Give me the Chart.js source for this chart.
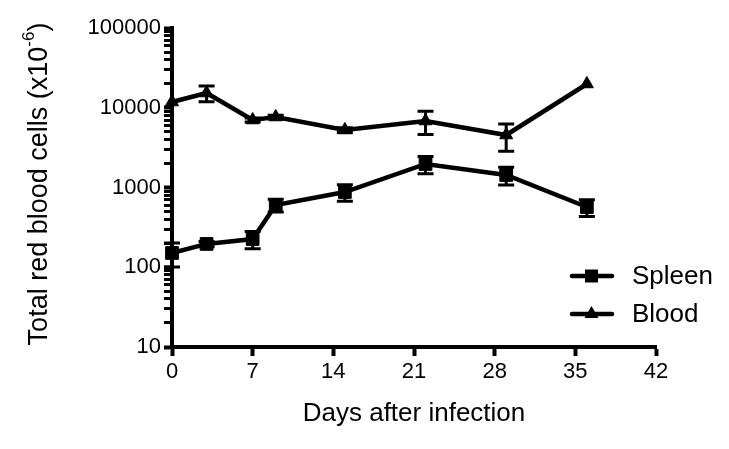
<!DOCTYPE html>
<html>
<head>
<meta charset="utf-8">
<script src="https://cdn.jsdelivr.net/npm/chart.js@4"></script>
<style>
  html, body { margin: 0; padding: 0; background: #fff; }
  canvas { display: block; }
</style>
</head>
<body>
<canvas id="chart" width="729" height="449"></canvas>
<script>
// days after infection
var days = [0, 3, 7, 9, 15, 22, 29, 36]
// spleen means and SEM
var spleen = [151, 196, 226, 604, 878, 1972, 1435, 569]
var spleenErr = [50, 15, 55, 110, 205, 480, 360, 135]
// blood means and SEM
var blood = [11800, 15300, 7020, 7650, 5260, 6820, 4550, 19860]
var bloodErr = [0, 3400, 400, 400, 350, 2200, 1700, 0]
// axis ticks
var xTicks = [0, 7, 14, 21, 28, 35, 42]
var yMajor = [10, 100, 1000, 10000, 100000]

var FONT = '"Liberation Sans", Arial, Helvetica, sans-serif'

var toPoints = (vals) => days.map((d, i) => ({ x: d, y: vals[i] }))

// all log ticks 1..9 x decade, labels only on decades
var yTicks = []
yMajor.forEach((m, i) => {
  if (i === yMajor.length - 1) { yTicks.push(m); return }
  for (var k = 1; k < 10; k++) yTicks.push(m * k)
})

var errorBars = {
  id: 'errorBars',
  beforeDatasetsDraw (chart) {
    var ctx = chart.ctx
    var xs = chart.scales.x
    var ys = chart.scales.y
    var errs = [spleenErr, bloodErr]
    var means = [spleen, blood]
    ctx.save()
    ctx.strokeStyle = '#000'
    ctx.lineWidth = 3
    errs.forEach((err, s) => {
      days.forEach((d, i) => {
        if (!err[i]) return
        var px = xs.getPixelForValue(d)
        var top = ys.getPixelForValue(means[s][i] + err[i])
        var bot = ys.getPixelForValue(means[s][i] - err[i])
        ctx.beginPath()
        ctx.moveTo(px, top); ctx.lineTo(px, bot)
        ctx.moveTo(px - 8, top); ctx.lineTo(px + 8, top)
        ctx.moveTo(px - 8, bot); ctx.lineTo(px + 8, bot)
        ctx.stroke()
      })
    })
    ctx.restore()
  }
}

var extras = {
  id: 'extras',
  afterDraw (chart) {
    var ctx = chart.ctx
    var area = chart.chartArea
    ctx.save()
    ctx.fillStyle = '#000'
    ctx.strokeStyle = '#000'

    // x title
    ctx.font = '26px ' + FONT
    ctx.textAlign = 'center'
    ctx.textBaseline = 'middle'
    ctx.fillText('Days after infection', (area.left + area.right) / 2, 414)

    // y title with superscript
    ctx.save()
    ctx.translate(40, 184)
    ctx.rotate(-Math.PI / 2)
    ctx.textAlign = 'left'
    ctx.textBaseline = 'middle'
    var main = 'Total red blood cells (x10'
    ctx.font = '27px ' + FONT
    var w1 = ctx.measureText(main).width
    var w3 = ctx.measureText(')').width
    ctx.font = '17px ' + FONT
    var w2 = ctx.measureText('-6').width
    var x0 = -(w1 + w2 + w3) / 2
    ctx.font = '27px ' + FONT
    ctx.fillText(main, x0, 0)
    ctx.font = '17px ' + FONT
    ctx.fillText('-6', x0 + w1, -11)
    ctx.font = '27px ' + FONT
    ctx.fillText(')', x0 + w1 + w2, 0)
    ctx.restore()

    // legend
    var items = [['Spleen', 'rect', 276], ['Blood', 'triangle', 314]]
    items.forEach((it) => {
      var y = it[2]
      ctx.lineWidth = 4.5
      ctx.lineCap = 'round'
      ctx.beginPath()
      ctx.moveTo(572, y); ctx.lineTo(612, y)
      ctx.stroke()
      ctx.beginPath()
      if (it[1] === 'rect') {
        ctx.rect(585, y - 6.5, 13, 13)
      } else {
        ctx.moveTo(591.5, y - 8); ctx.lineTo(598.5, y + 4); ctx.lineTo(584.5, y + 4); ctx.closePath()
      }
      ctx.fill()
      ctx.font = '26px ' + FONT
      ctx.textAlign = 'left'
      ctx.textBaseline = 'middle'
      ctx.fillText(it[0], 632, y + 1)
    })
    ctx.restore()
  }
}

var ds = (label, vals, style, radius) => ({
  label: label,
  data: toPoints(vals),
  borderColor: '#000',
  backgroundColor: '#000',
  borderWidth: 4.5,
  pointStyle: style,
  pointRadius: radius,
  pointBorderWidth: 1,
  pointBackgroundColor: '#000',
  pointBorderColor: '#000',
  tension: 0,
  clip: false
})

new Chart(document.getElementById('chart'), {
  type: 'line',
  data: {
    datasets: [
      ds('Spleen', spleen, 'rect', 9),
      ds('Blood', blood, 'triangle', 7.5)
    ]
  },
  options: {
    responsive: false,
    animation: false,
    devicePixelRatio: 1,
    layout: { padding: { top: 28, right: 73, left: 0, bottom: 0 } },
    plugins: { legend: { display: false }, tooltip: { enabled: false } },
    scales: {
      x: {
        type: 'linear',
        min: 0,
        max: 42,
        afterBuildTicks: (scale) => { scale.ticks = xTicks.map((v) => ({ value: v })) },
        afterFit: (scale) => { scale.height = 102 },
        ticks: { color: '#000', font: { size: 22, family: FONT }, padding: 3, autoSkip: false, maxRotation: 0 },
        grid: { drawOnChartArea: false, tickLength: 9, tickWidth: 4, tickColor: '#000' },
        border: { display: true, width: 4, color: '#000' }
      },
      y: {
        type: 'logarithmic',
        min: 10,
        max: 100000,
        afterBuildTicks: (scale) => { scale.ticks = yTicks.map((v) => ({ value: v, major: yMajor.includes(v) })) },
        afterFit: (scale) => { scale.width = 172 },
        ticks: {
          color: '#000',
          font: { size: 22, family: FONT },
          padding: 3,
          autoSkip: false,
          callback: (v) => yMajor.includes(v) ? String(v) : ''
        },
        grid: {
          drawOnChartArea: false,
          tickLength: 8,
          tickWidth: (c) => (c.tick && yMajor.includes(c.tick.value)) ? 4 : 3,
          tickColor: '#000'
        },
        border: { display: true, width: 4, color: '#000' }
      }
    }
  },
  plugins: [errorBars, extras]
})
</script>
</body>
</html>
